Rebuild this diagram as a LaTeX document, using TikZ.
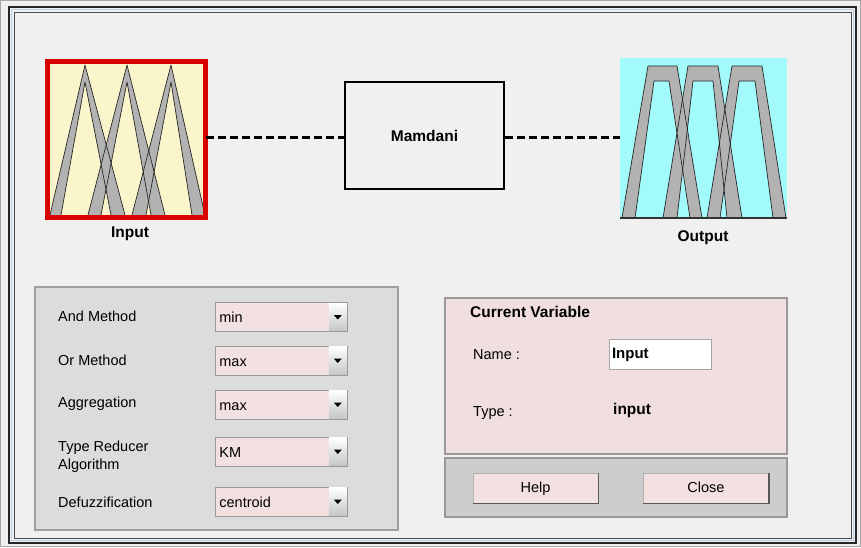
\documentclass[tikz,border=0pt]{standalone}
\usepackage{fontspec}
\setmainfont{Liberation Sans}
\definecolor{bgc}{HTML}{F0F0F0}
\definecolor{yel}{HTML}{FBF5CB}
\definecolor{cyn}{HTML}{A3FAFA}
\definecolor{band}{HTML}{B2B2B2}
\definecolor{redb}{HTML}{D80000}
\definecolor{pnk}{HTML}{F1DEDE}
\definecolor{ddp}{HTML}{F3E1E1}
\definecolor{lpan}{HTML}{DCDCDC}
\definecolor{rpan}{HTML}{CDCDCD}
\definecolor{frm}{HTML}{B9D1EA}
\tikzset{
  reg/.style={font=\fontsize{14.5}{18}\selectfont, inner sep=0pt},
  bld/.style={font=\fontsize{15.5}{18}\selectfont\bfseries, inner sep=0pt},
  bandfill/.style={fill=band, even odd rule},
  bandline/.style={draw=black!85, line width=0.7pt, line join=round},
  dashline/.style={line width=3pt, dash pattern=on 8pt off 4pt},
  ddbox/.style={draw=gray!80, fill=ddp, line width=0.8pt, minimum width=132pt, minimum height=29pt,
    inner xsep=4pt, inner ysep=0pt, anchor=west, text width=124pt, align=left,
    text height=11pt, text depth=0pt,
    font=\fontsize{14.5}{18}\selectfont},
  btn/.style={draw=gray!60, fill=ddp, line width=0.8pt, minimum width=125pt, minimum height=30pt,
    inner sep=0pt, text height=10.5pt, text depth=2.5pt, font=\fontsize{14.5}{18}\selectfont},
}
\begin{document}
\begin{tikzpicture}[x=1pt,y=-1pt]
\useasboundingbox (0,0) rectangle (861,547);
\fill[bgc] (0,0) rectangle (861,547);
% frame
\draw[gray!70, line width=1pt] (0.5,0.5) rectangle (860.5,546.5);
\draw[black!85, line width=1.5pt] (9,7) rectangle (856,543);
\draw[frm, line width=1pt] (11.5,9.5) rectangle (853.5,540.5);
\draw[black!70, line width=0.8pt] (14,12) rectangle (851,538);

% input box
\node[fill=yel, minimum width=158pt, minimum height=156pt, inner sep=0pt] (in) at (126.5,139.5) {};
\fill[bandfill] (50,215)--(85,65)--(125,215)--cycle (61,215)--(85,82)--(111,215)--cycle;
\fill[bandfill] (88,215)--(127,65)--(165,215)--cycle (101,215)--(127,82)--(151,215)--cycle;
\fill[bandfill] (132,215)--(171,65)--(205,215)--cycle (146,215)--(171,82)--(192,215)--cycle;
\draw[bandline] (50,215)--(85,65)--(125,215) (61,215)--(85,82)--(111,215);
\draw[bandline] (88,215)--(127,65)--(165,215) (101,215)--(127,82)--(151,215);
\draw[bandline] (132,215)--(171,65)--(205,215) (146,215)--(171,82)--(192,215);
\draw[redb, line width=5pt] (in.north west) rectangle (in.south east);
\node[bld] (inlab) at (130,234) {Input};

% output box
\node[fill=cyn, minimum width=167pt, minimum height=160pt, inner sep=0pt] (out) at (703.5,138) {};
\fill[bandfill] (622,218)--(648,66)--(677,66)--(702,218)--cycle (635,218)--(654,81)--(669,81)--(690,218)--cycle;
\fill[bandfill] (663,218)--(688,66)--(718,66)--(742,218)--cycle (677,218)--(693,81)--(713,81)--(727,218)--cycle;
\fill[bandfill] (707,218)--(732,66)--(762,66)--(786,218)--cycle (720,218)--(739,81)--(755,81)--(773,218)--cycle;
\draw[bandline] (622,218)--(648,66)--(677,66)--(702,218) (635,218)--(654,81)--(669,81)--(690,218);
\draw[bandline] (663,218)--(688,66)--(718,66)--(742,218) (677,218)--(693,81)--(713,81)--(727,218);
\draw[bandline] (707,218)--(732,66)--(762,66)--(786,218) (720,218)--(739,81)--(755,81)--(773,218);
\draw[black!80, line width=1.5pt] (out.south west) -- (out.south east);
\node[bld] (outlab) at (703,238) {Output};

% mamdani
\node[draw=black, line width=2pt, fill=bgc, minimum width=159pt, minimum height=107pt, inner sep=0pt,
      font=\fontsize{15.5}{18}\selectfont\bfseries] (mam) at (424.5,135.5) {Mamdani};
\draw[dashline] (in.east |- 0,137) -- (mam.west |- 0,137);
\draw[dashline] (mam.east |- 0,137) -- (out.west |- 0,137);

% left panel
\node[draw=gray!75, line width=1.2pt, fill=lpan, minimum width=363pt, minimum height=243pt, inner sep=0pt] (lp) at (216.5,408.5) {};
\node[reg, anchor=west] (l1) at (58,316) {And Method};
\node[reg, anchor=west] (l2) at (58,360) {Or Method};
\node[reg, anchor=west] (l3) at (58,404) {Aggregation};
\node[reg, anchor=west, align=left, font=\fontsize{14.5}{18}\selectfont] (l4) at (58,457) {Type Reducer\\Algorithm};
\node[reg, anchor=west] (l5) at (58,502) {Defuzzification};
\foreach \n/\y/\t in {1/317/min, 2/360.5/max, 3/404.5/max, 4/451.5/KM, 5/501.5/centroid}{
  \node[ddbox] (dd\n) at (215,\y) {\t};
  \shade[top color=white, bottom color=gray!45] ([xshift=-19pt,yshift=-1pt]dd\n.north east) rectangle ([xshift=-1pt,yshift=1pt]dd\n.south east);
  \fill[black] ([xshift=-14pt,yshift=2pt]dd\n.east) -- ([xshift=-6pt,yshift=2pt]dd\n.east) -- ([xshift=-10pt,yshift=-2.5pt]dd\n.east) -- cycle;
}

% right panel
\node[draw=gray!80, line width=1.2pt, fill=pnk, minimum width=342pt, minimum height=156pt, inner sep=0pt] (rp) at (616,376) {};
\node[draw=gray!80, line width=1.2pt, fill=rpan, minimum width=342pt, minimum height=59pt, inner sep=0pt] (rb) at (616,487.5) {};
\node[bld, anchor=west] (cv) at (470,312) {Current Variable};
\node[reg, anchor=west] (nm) at (473,355) {Name :};
\node[draw=gray!70, line width=0.8pt, fill=white, minimum width=102pt, minimum height=30pt, inner xsep=3pt,
      text width=96pt, align=left, text height=10.5pt, text depth=1.5pt,
      font=\fontsize{15}{18}\selectfont\bfseries] (nbox) at (660,354) {Input};
\node[reg, anchor=west] (ty) at (473,413) {Type :};
\node[bld, anchor=west] (tv) at (613,410) {input};
\node[btn] (help) at (535.5,488) {Help};
\node[btn] (close) at (706,488) {Close};
\draw[black!65, line width=1.5pt] (help.north east) -- (help.south east) -- (help.south west);
\draw[black!65, line width=1.5pt] (close.north east) -- (close.south east) -- (close.south west);
\end{tikzpicture}
\end{document}
